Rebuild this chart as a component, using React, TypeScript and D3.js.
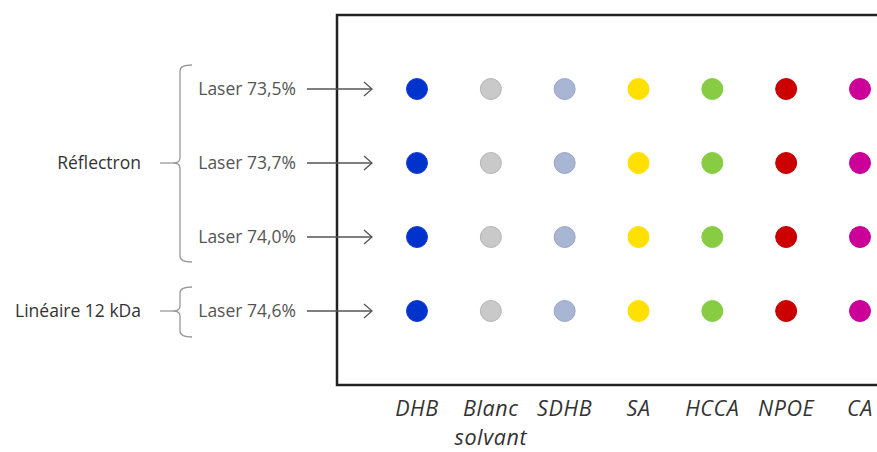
import React from "react";
import * as d3 from "d3";

const matrices = ["DHB", "Blanc\nsolvant", "SDHB", "SA", "HCCA", "NPOE", "CA"];
const matrixColors = ["#0033cc", "#c9c9c9", "#a9b6d3", "#ffe000", "#88cc44", "#cc0000", "#cc0099"];
const matrixStrokes = ["#1a3fd0", "#b5b5b5", "#98a6c8", "#ffe000", "#88cc44", "#c00000", "#c4009a"];
const laserLabels = ["Laser 73,5%", "Laser 73,7%", "Laser 74,0%", "Laser 74,6%"];
const groups = [
  { name: "Réflectron", first: 0, last: 2 },
  { name: "Linéaire 12 kDa", first: 3, last: 3 },
];

const W = 877;
const H = 452;
const FONT = "'Open Sans', Lato, sans-serif";

export default function App() {
  const x = d3.scalePoint<string>().domain(matrices).range([417, 860]);
  const y = d3.scalePoint<string>().domain(laserLabels).range([89, 311]);

  const bracePath = (top: number, bottom: number, mid: number, bx: number) => {
    const p = d3.path();
    p.moveTo(bx + 12, top);
    p.quadraticCurveTo(bx, top, bx, top + 6);
    p.lineTo(bx, mid - 5);
    p.quadraticCurveTo(bx, mid, bx - 7, mid);
    p.quadraticCurveTo(bx, mid, bx, mid + 5);
    p.lineTo(bx, bottom - 6);
    p.quadraticCurveTo(bx, bottom, bx + 12, bottom);
    return p.toString();
  };

  return (
    <svg width={W} height={H} style={{ position: "absolute", left: 0, top: 0, background: "#fff" }}>
      <rect x={337} y={15} width={600} height={370} fill="none" stroke="#222" strokeWidth={2.5} />

      {laserLabels.map((l) => {
        const yy = y(l)!;
        return (
          <g key={l}>
            <text x={296} y={yy + 6} textAnchor="end" fontFamily={FONT} fontSize={17.5} fill="#555">
              {l}
            </text>
            <line x1={307} x2={372} y1={yy} y2={yy} stroke="#555" strokeWidth={1.3} />
            <path d={`M${364},${yy - 7} L${372},${yy} L${364},${yy + 7}`} fill="none" stroke="#555" strokeWidth={1.3} />
          </g>
        );
      })}

      {groups.map((g) => {
        const top = y(laserLabels[g.first])! - 24;
        const bottom = y(laserLabels[g.last])! + (g.first === g.last ? 26 : 25);
        const mid = (y(laserLabels[g.first])! + y(laserLabels[g.last])!) / 2;
        return (
          <g key={g.name}>
            <path d={bracePath(top, bottom, mid, 180)} fill="none" stroke="#999" strokeWidth={1.3} />
            <line x1={160} x2={173} y1={mid} y2={mid} stroke="#999" strokeWidth={1.3} />
            <text x={141} y={mid + 6} textAnchor="end" fontFamily={FONT} fontSize={17.5} fill="#333">
              {g.name}
            </text>
          </g>
        );
      })}

      {laserLabels.map((l) =>
        matrices.map((m, i) => (
          <circle key={l + m} cx={x(m)} cy={y(l)} r={10.5} fill={matrixColors[i]} stroke={matrixStrokes[i]} strokeWidth={1} />
        ))
      )}

      {matrices.map((m) => (
        <text key={m} x={x(m)} y={416} textAnchor="middle" fontFamily={FONT} fontStyle="italic" fontSize={21.5} letterSpacing={0.6} fill="#333">
          {m.split("\n").map((part, j) => (
            <tspan key={j} x={x(m)} dy={j === 0 ? 0 : 29.3}>
              {part}
            </tspan>
          ))}
        </text>
      ))}
    </svg>
  );
}
